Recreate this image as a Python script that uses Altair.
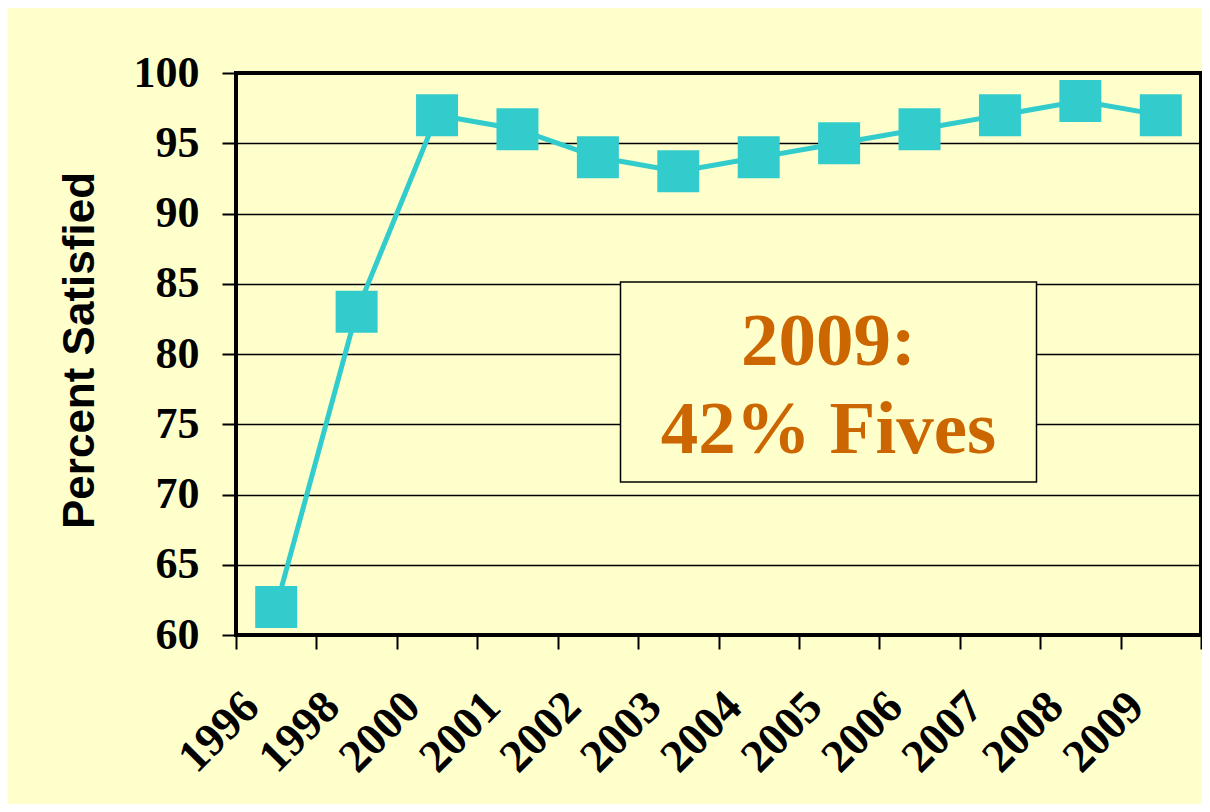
import altair as alt
import pandas as pd

# ---- data ----
years = ["1996", "1998", "2000", "2001", "2002", "2003",
         "2004", "2005", "2006", "2007", "2008", "2009"]
satisfied = [62, 83, 97, 96, 94, 93, 94, 95, 96, 97, 98, 97]
y_ticks = [60, 65, 70, 75, 80, 85, 90, 95, 100]
note_lines = ["2009:", "42% Fives"]

df = pd.DataFrame({"year": years, "pct": satisfied})

BG = "#FFFFCC"
TEAL = "#33CCCC"
ORANGE = "#CC6600"
W, H = 965, 562

x_enc = alt.X(
    "year:N", sort=years, title=None, bandPosition=0.5,
    scale=alt.Scale(type="band", paddingInner=0, paddingOuter=0),
    axis=alt.Axis(
        labelAngle=-45, labelAlign="right", labelBaseline="middle",
        labelFont="Liberation Serif", labelFontWeight="bold", labelFontSize=46,
        labelColor="black", labelPadding=50, labelOffset=-25,
        tickBand="extent", tickSize=14, tickWidth=2, tickColor="black",
        domain=False, grid=False,
    ),
)
y_enc = alt.Y(
    "pct:Q",
    scale=alt.Scale(domain=[60, 100], nice=False, zero=False),
    axis=alt.Axis(
        values=y_ticks, title="Percent Satisfied",
        labelFont="Liberation Serif", labelFontWeight="bold", labelFontSize=44,
        labelColor="black", labelPadding=23,
        tickSize=14, tickWidth=2, tickColor="black",
        grid=True, gridColor="black", gridWidth=1.5, domain=False,
        titleFont="Liberation Sans", titleFontWeight="bold", titleFontSize=44,
        titleColor="black", titleX=-156, titleY=277, titleAngle=-90,
        titleAlign="center", titleBaseline="middle",
    ),
)

base = alt.Chart(df).encode(x=x_enc, y=y_enc)
line = base.mark_line(color=TEAL, strokeWidth=5)
pts = base.mark_point(shape="square", filled=True, size=1764, color=TEAL, opacity=1)

one = alt.Chart(pd.DataFrame({"k": [0]}))
box = one.mark_rect(fill=BG, stroke="black", strokeWidth=1.5).encode(
    x=alt.value(384.5), x2=alt.value(800.5), y=alt.value(209), y2=alt.value(409)
)
note = one.mark_text(
    text=note_lines, font="Liberation Serif", fontWeight="bold", fontSize=75,
    color=ORANGE, align="center", baseline="middle", lineHeight=88,
).encode(x=alt.value(592.5), y=alt.value(269))

chart = (
    alt.layer(line, pts, box, note)
    .properties(
        width=W, height=H,
        padding={"left": 228, "top": 65, "right": 1, "bottom": 169},
        autosize=alt.AutoSizeParams(type="none"),
        background=BG,
    )
    .configure_view(stroke="black", strokeWidth=4)
)

chart.save("out.html", embed_options={"renderer": "svg", "actions": False})
